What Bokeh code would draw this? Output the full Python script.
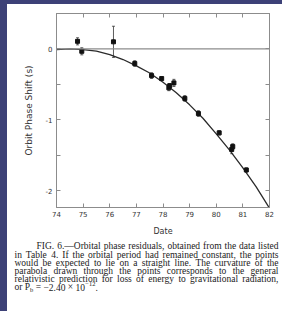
from bokeh.plotting import figure
from bokeh.models import (LinearAxis, FixedTicker, Span, Whisker, TeeHead,
                          ColumnDataSource, Range1d)
from bokeh.core.properties import value
from bokeh.embed import file_html
from bokeh.resources import INLINE
from bokeh.core.templates import FILE

# ---------------- data ----------------
obs_year = [74.79, 74.95, 76.14, 76.94, 77.57, 77.95, 78.22, 78.25, 78.41,
            78.82, 79.33, 80.11, 80.58, 80.62, 81.13]
obs_shift = [0.107, -0.034, 0.10, -0.207, -0.377, -0.419, -0.55, -0.52, -0.48,
             -0.70, -0.913, -1.186, -1.42, -1.38, -1.71]
obs_err = [0.05, 0.05, 0.22, 0.04, 0.04, 0.02, 0.04, 0.03, 0.05,
           0.04, 0.04, 0.03, 0.06, 0.04, 0.03]

curve_year = [74.0, 74.5, 75.0, 75.5, 76.0, 76.5, 77.0, 77.5, 78.0, 78.5,
              79.0, 79.5, 80.0, 80.5, 81.0, 81.5, 82.0]
curve_shift = [-0.01, 0.0, -0.01, -0.03, -0.08, -0.15, -0.24, -0.34, -0.47, -0.62,
               -0.79, -0.98, -1.20, -1.43, -1.68, -1.95, -2.25]

x_ticks = [74, 75, 76, 77, 78, 79, 80, 81, 82]
y_ticks = [-2, -1, 0]
y_half_ticks = [-1.5, -0.5, 0.5]
y_tick_labels = {-2: "-2", -1: "-1", 0: "0"}

caption_lines = [
    "FIG. 6.\u2014Orbital phase residuals, obtained from the data listed",
    "in Table 4. If the orbital period had remained constant, the points",
    "would be expected to lie on a straight line. The curvature of the",
    "parabola drawn through the points corresponds to the general",
    "relativistic prediction for loss of energy to gravitational radiation,",
]
# last line: "or Ṗ_b = −2.40 × 10^−12."
last_parts = ["or", "\u1e56", "b", "=", "\u22122.40", "\u00d7", "10", "\u221212", "."]
last_small = [0, 0, 1, 0, 0, 0, 0, 1, 0]

# ---------------- layout constants ----------------
W = 282
H1, H2 = 238, 73
BL, BR, BT, BB = 56, 13, 13, 30
GRAY = "#8c8c8c"
INK = "#2a2a2a"
BLUE = "#3d4177"

p = figure(width=W, height=H1, x_range=Range1d(74, 82), y_range=Range1d(-2.24, 0.5),
           output_backend="svg", toolbar_location=None,
           min_border_left=BL, min_border_right=BR, min_border_top=BT, min_border_bottom=BB,
           background_fill_color="white", border_fill_alpha=0,
           outline_line_color=GRAY, outline_line_width=1)
p.grid.visible = False

xa = p.xaxis[0]
xa.ticker = FixedTicker(ticks=x_ticks)
ya = p.yaxis[0]
ya.ticker = FixedTicker(ticks=y_ticks, minor_ticks=y_half_ticks)
ya.major_label_overrides = y_tick_labels
for ax in (xa, ya):
    ax.major_tick_in = 4
    ax.major_tick_out = 0
    ax.minor_tick_in = 4
    ax.minor_tick_out = 0
    ax.axis_line_color = GRAY
    ax.major_tick_line_color = GRAY
    ax.minor_tick_line_color = GRAY
    ax.major_label_text_font = "DejaVu Sans"
    ax.major_label_text_font_size = "7px"
    ax.major_label_text_color = "#333333"
    ax.axis_label_text_font = "DejaVu Sans"
    ax.axis_label_text_font_style = "normal"
    ax.axis_label_text_color = "#333333"
xa.axis_label = "Date"
xa.axis_label_text_font_size = "8px"
xa.major_label_standoff = 3
xa.axis_label_standoff = 7
ya.axis_label = "Orbit Phase Shift (s)"
ya.axis_label_text_font_size = "9px"
ya.major_label_standoff = 4
ya.axis_label_standoff = 9

top = LinearAxis(ticker=FixedTicker(ticks=x_ticks))
right = LinearAxis(ticker=FixedTicker(ticks=y_ticks, minor_ticks=y_half_ticks))
for ax in (top, right):
    ax.major_label_text_font_size = "0px"
    ax.major_label_text_color = None
    ax.major_label_standoff = 0
    ax.major_tick_in = 4
    ax.major_tick_out = 0
    ax.minor_tick_in = 4
    ax.minor_tick_out = 0
    ax.axis_line_color = GRAY
    ax.major_tick_line_color = GRAY
    ax.minor_tick_line_color = GRAY
top.minor_tick_line_color = None
p.add_layout(top, "above")
p.add_layout(right, "right")

p.add_layout(Span(location=0, dimension="width", line_color=GRAY, line_width=1.2))
p.line(curve_year, curve_shift, line_color=INK, line_width=1.3)

src = ColumnDataSource(dict(
    x=obs_year, y=obs_shift,
    upper=[s + e for s, e in zip(obs_shift, obs_err)],
    lower=[s - e for s, e in zip(obs_shift, obs_err)],
))
p.add_layout(Whisker(source=src, base="x", upper="upper", lower="lower",
                     line_color="#333333", line_width=0.8,
                     upper_head=TeeHead(size=3, line_color="#333333", line_width=0.8),
                     lower_head=TeeHead(size=3, line_color="#333333", line_width=0.8)))
p.scatter("x", "y", source=src, marker="square", size=4, color="#111111")

# ---------------- caption (separate svg figure, pixel coordinates) ----------------
# Times / Liberation Serif advance widths (1/1000 em), used to justify the lines
CW = {" ": 250, "a": 444, "b": 500, "c": 444, "d": 500, "e": 444, "f": 333, "g": 500,
      "h": 500, "i": 278, "j": 278, "k": 500, "l": 278, "m": 778, "n": 500, "o": 500,
      "p": 500, "q": 500, "r": 333, "s": 389, "t": 278, "u": 500, "v": 500, "w": 722,
      "x": 500, "y": 500, "z": 444, ".": 250, ",": 250, "\u2014": 1000, "F": 556,
      "G": 722, "I": 333, "O": 722, "T": 611, "P": 556, "\u1e56": 556, "=": 564,
      "\u2212": 564, "\u00d7": 564}

def tw(s, fs):
    return sum(CW.get(ch, 500) for ch in s) / 1000.0 * fs

FONT = "Liberation Serif"
FS, FS_SMALL = 9.5, 6.5
L, R = 14.0, 278.0
line_x0 = [36.0, L, L, L, L]
line_y = [7.7, 16.0, 24.3, 32.3, 40.3]
last_y = 48.7

wx, wy, wt = [], [], []
for t, x0, y in zip(caption_lines, line_x0, line_y):
    words = t.split(" ")
    widths = [tw(w, FS) for w in words]
    gap = (R - x0 - sum(widths)) / (len(words) - 1)
    x = x0
    for w, ww in zip(words, widths):
        wx.append(x); wy.append(y); wt.append(w)
        x += ww + gap

# last line, natural spacing
space = tw(" ", FS)
gaps_before = [0, space, 0, space, space, space, space, 0.3, 0]
shift = [0, 0, 2.5, 0, 0, 0, 0, -3.2, 0]
nx, ny, nt, sx, sy, st = [], [], [], [], [], []
x = L
for t, small, g, dy in zip(last_parts, last_small, gaps_before, shift):
    x += g
    if small:
        sx.append(x); sy.append(last_y + dy); st.append(t)
        x += tw(t, FS_SMALL)
    else:
        nx.append(x); ny.append(last_y + dy); nt.append(t)
        x += tw(t, FS)

c = figure(width=W, height=H2, x_range=Range1d(0, W), y_range=Range1d(H2, 0),
           output_backend="svg", toolbar_location=None,
           x_axis_type=None, y_axis_type=None,
           min_border_left=0, min_border_right=0, min_border_top=0, min_border_bottom=0,
           background_fill_alpha=0, border_fill_alpha=0, outline_line_color=None)
c.grid.visible = False
TXT = dict(text_font=value(FONT), text_color="#222222",
           text_baseline="middle", text_align="left")
c.text(x=wx, y=wy, text=wt, text_font_size=value("%gpx" % FS), **TXT)
c.text(x=nx, y=ny, text=nt, text_font_size=value("%gpx" % FS), **TXT)
c.text(x=sx, y=sy, text=st, text_font_size=value("%gpx" % FS_SMALL), **TXT)

tmpl = FILE.environment.from_string(
    '{% extends "file.html" %}{% block postamble %}<style>body{background:'
    'linear-gradient(' + BLUE + ',' + BLUE + ') 0 0/100% 4px no-repeat,'
    'linear-gradient(' + BLUE + ',' + BLUE + ') 0 0/7px 100% no-repeat,#ffffff;}</style>'
    '{% endblock %}')
open("out.html", "w").write(file_html((p, c), INLINE, template=tmpl))
